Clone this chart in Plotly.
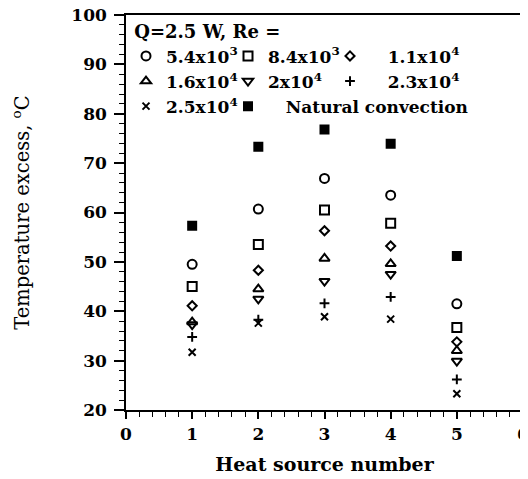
import plotly.graph_objects as go

sources = [1, 2, 3, 4, 5]
NB = "\u00a0"
labels = ["5.4x10<sup>3</sup>", "8.4x10<sup>3</sup>", NB * 3 + "1.1x10<sup>4</sup>",
          "1.6x10<sup>4</sup>", "2x10<sup>4</sup>", NB * 3 + "2.3x10<sup>4</sup>",
          "2.5x10<sup>4</sup>", NB * 3 + "Natural convection"]
re_5400 = [49.5, 60.7, 66.9, 63.5, 41.5]
re_8400 = [45.0, 53.5, 60.5, 57.8, 36.7]
re_11000 = [41.1, 48.3, 56.3, 53.2, 33.8]
re_16000 = [37.8, 44.5, 50.7, 49.6, 32.0]
re_20000 = [37.3, 42.5, 46.1, 47.5, 29.9]
re_23000 = [34.8, 38.3, 41.6, 42.9, 26.2]
re_25000 = [31.7, 37.6, 38.9, 38.4, 23.3]
natural = [57.3, 73.3, 76.8, 73.9, 51.2]

series = [re_5400, re_8400, re_11000, re_16000, re_20000, re_23000, re_25000, natural]
symbols = ["circle-open", "square-open", "diamond-open", "triangle-up-open",
           "triangle-down-open", "cross-thin-open", "x-thin-open", "square"]
sizes = [9, 9, 7, 9, 9, 7, 7, 8]

fig = go.Figure()
for vals, lab, sym, sz in zip(series, labels, symbols, sizes):
    fig.add_trace(go.Scatter(
        x=sources, y=vals, mode="markers", name=lab,
        marker=dict(symbol=sym, size=sz, color="black",
                    line=dict(color="black", width=2)),
    ))

font_fam = "DejaVu Serif"
fig.update_layout(
    width=520, height=479,
    margin=dict(l=118, r=5, t=7, b=77),
    plot_bgcolor="white", paper_bgcolor="white",
    font=dict(family=font_fam, color="black", size=16),
    showlegend=True,
    legend=dict(
        orientation="h", x=0.0, y=1.0, xanchor="left", yanchor="top",
        entrywidth=57, entrywidthmode="pixels",
        title=dict(text=NB + "<b>Q=2.5 W, Re =</b>" + NB * 32, side="top",
                   font=dict(family=font_fam, size=18, color="black")),
        font=dict(family=font_fam, size=17, color="black", weight="bold"),
        bgcolor="rgba(0,0,0,0)", borderwidth=0,
        tracegroupgap=0, itemsizing="trace",
    ),
    xaxis=dict(
        range=[0, 6], tickmode="linear", tick0=0, dtick=1, automargin=False,
        showline=True, linecolor="black", linewidth=1.5, mirror=True,
        ticks="outside", ticklen=7, tickwidth=1.5, tickcolor="black",
        ticklabelstandoff=1, ticklabeloverflow="allow",
        minor=dict(dtick=0.2, ticks="outside", ticklen=5, tickcolor="black", tickwidth=1),
        showgrid=False, zeroline=False,
        tickfont=dict(family=font_fam, size=17, weight="bold"),
        title=dict(text="<b>Heat source number</b>", standoff=15,
                   font=dict(family=font_fam, size=19)),
    ),
    yaxis=dict(
        range=[20, 100], tickmode="linear", tick0=20, dtick=10, automargin=False,
        showline=True, linecolor="black", linewidth=1.5, mirror=True,
        ticks="outside", ticklen=10, tickwidth=1.5, tickcolor="black",
        ticklabelstandoff=4, ticklabeloverflow="allow",
        minor=dict(dtick=2, ticks="outside", ticklen=5, tickcolor="black", tickwidth=1),
        showgrid=False, zeroline=False,
        tickfont=dict(family=font_fam, size=17, weight="bold"),
        title=dict(text="Temperature excess, <sup>o</sup>C", standoff=53,
                   font=dict(family=font_fam, size=19.5)),
    ),
    annotations=[dict(
        text="Fig. 7 (b)", xref="paper", yref="paper", x=0.257, y=0,
        xanchor="left", yanchor="top", yshift=-66, showarrow=False,
        font=dict(family=font_fam, size=19, color="black"),
    )],
)

fig.write_html("out.html")
